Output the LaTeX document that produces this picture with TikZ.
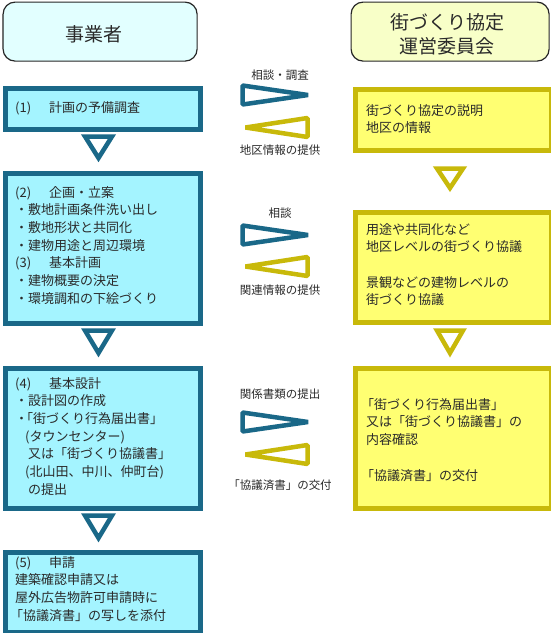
\documentclass[tikz,border=0pt]{standalone}
\usepackage{fontspec}
\setmainfont{Noto Sans CJK JP}
\definecolor{tealB}{HTML}{1A6888}
\definecolor{cyanF}{HTML}{A4F4FF}
\definecolor{hdrC}{HTML}{E2FFFF}
\definecolor{hdrY}{HTML}{F8FFC8}
\definecolor{yelF}{HTML}{FFFF72}
\definecolor{yelB}{HTML}{C8B90A}
\definecolor{txtc}{HTML}{2A2A2A}
\newcommand{\tealtri}[1]{\draw[tritealstyle] (242.5,#1-9.5) -- (242.5,#1+9.5) -- (308,#1) -- cycle;}
\newcommand{\yeltri}[1]{\draw[triyelstyle] (307.5,#1-9.5) -- (307.5,#1+9.5) -- (245.5,#1) -- cycle;}
\newcommand{\lbr}{\hspace*{-5pt}「}
\begin{document}
\begin{tikzpicture}[x=1pt,y=-1pt,
  hdr/.style={draw=black!85, line width=1.2pt, rounded corners=12pt, inner sep=0pt, anchor=north west, text=txtc},
  lbox/.style={draw=tealB, fill=cyanF, line width=5pt, inner sep=0pt, anchor=north west, minimum width=195pt},
  rbox/.style={draw=yelB, fill=yelF, line width=5pt, inner sep=0pt, anchor=north west, minimum width=196pt},
  txt/.style={text=txtc, font=\fontsize{13}{17.7}\selectfont, align=left, inner sep=0pt, anchor=north west},
  lab/.style={text=txtc, font=\fontsize{11.5}{13}\selectfont, inner sep=0pt},
  hdrtxt/.style={text=txtc, font=\fontsize{19}{24}\selectfont, align=center, inner sep=0pt},
  tritealstyle/.style={draw=tealB, line width=4.5pt, line join=bevel},
  triyelstyle/.style={draw=yelB, line width=4.5pt, line join=bevel},
  downteal/.style={draw=tealB, line width=4.5pt, line join=miter},
  downyel/.style={draw=yelB, line width=4.5pt, line join=miter}]
\useasboundingbox (0,0) rectangle (551,633);
\fill[white] (0,0) rectangle (551,633);

% headers
\node[hdr, fill=hdrC, minimum width=194pt, minimum height=59pt] (h1) at (2.5,1.5) {};
\node[hdr, fill=hdrY, minimum width=198pt, minimum height=59pt] (h2) at (350.5,1.5) {};
\node[hdrtxt] (h1t) at (94,34) {事業者};
\node[hdrtxt] (h2t) at (447,34) {街づくり協定\\運営委員会};

% left boxes
\node[lbox, minimum height=41pt] (b1) at (2.5,85.5) {};
\node[lbox, minimum height=150pt] (b2) at (2.5,170.5) {};
\node[lbox, minimum height=140pt] (b4) at (2.5,365.5) {};
\node[lbox, minimum height=80pt] (b5) at (2.5,549.5) {};

% right boxes
\node[rbox, minimum height=61pt] (r1) at (352.5,86.5) {};
\node[rbox, minimum height=110pt] (r2) at (352.5,209.5) {};
\node[rbox, minimum height=140pt] (r3) at (352.5,365.5) {};

% left texts
\node[txt] (t1) at (15,101) {(1)\hspace{18pt}計画の予備調査};
\node[txt] (t2) at (15,186) {(2)\hspace{18pt}企画・立案\\
・敷地計画条件洗い出し\\
・敷地形状と共同化\\
・建物用途と周辺環境\\
(3)\hspace{18pt}基本計画\\
・建物概要の決定\\
・環境調和の下絵づくり};
\node[txt] (t4) at (15,377) {(4)\hspace{18pt}基本設計\\
・設計図の作成\\
・\hspace{-8pt}「街づくり行為届出書」\\
\hspace*{10pt}(タウンセンター)\\
　又は「街づくり協議書」\\
\hspace*{10pt}(北山田、中川、仲町台)\\
　の提出};
\node[txt] (t5) at (15,556) {(5)\hspace{18pt}申請\\
建築確認申請又は\\
屋外広告物許可申請時に\\
\lbr 協議済書」の写しを添付};

% right texts
\node[txt] (s1) at (366,104) {街づくり協定の説明\\
地区の情報};
\node[txt] (s2) at (366,223) {用途や共同化など\\
地区レベルの街づくり協議\\
\mbox{}\\
景観などの建物レベルの\\
街づくり協議};
\node[txt] (s3) at (366,398) {\lbr 街づくり行為届出書」\\
又は「街づくり協議書」の\\
内容確認\\
\mbox{}\\
\lbr 協議済書」の交付};

% down triangles
\draw[downteal] (85,136.5) -- (112,136.5) -- (98.5,158) -- cycle;
\draw[downteal] (85,330.5) -- (112,330.5) -- (98.5,353) -- cycle;
\draw[downteal] (85,515.5) -- (112,515.5) -- (98.5,538) -- cycle;
\draw[downyel] (437,168.5) -- (463,168.5) -- (450,188) -- cycle;
\draw[downyel] (437,330.5) -- (463,330.5) -- (450,353) -- cycle;

% middle exchange symbols
\tealtri{95}
\yeltri{127.5}
\tealtri{235}
\yeltri{266.5}
\tealtri{422}
\yeltri{454.5}

% labels
\node[lab] (l1) at (280,75) {相談・調査};
\node[lab] (l2) at (280,150) {地区情報の提供};
\node[lab] (l3) at (280,213) {相談};
\node[lab] (l4) at (280,290) {関連情報の提供};
\node[lab] (l5) at (280,394) {関係書類の提出};
\node[lab] (l6) at (280,485) {「協議済書」の交付};
\end{tikzpicture}
\end{document}
